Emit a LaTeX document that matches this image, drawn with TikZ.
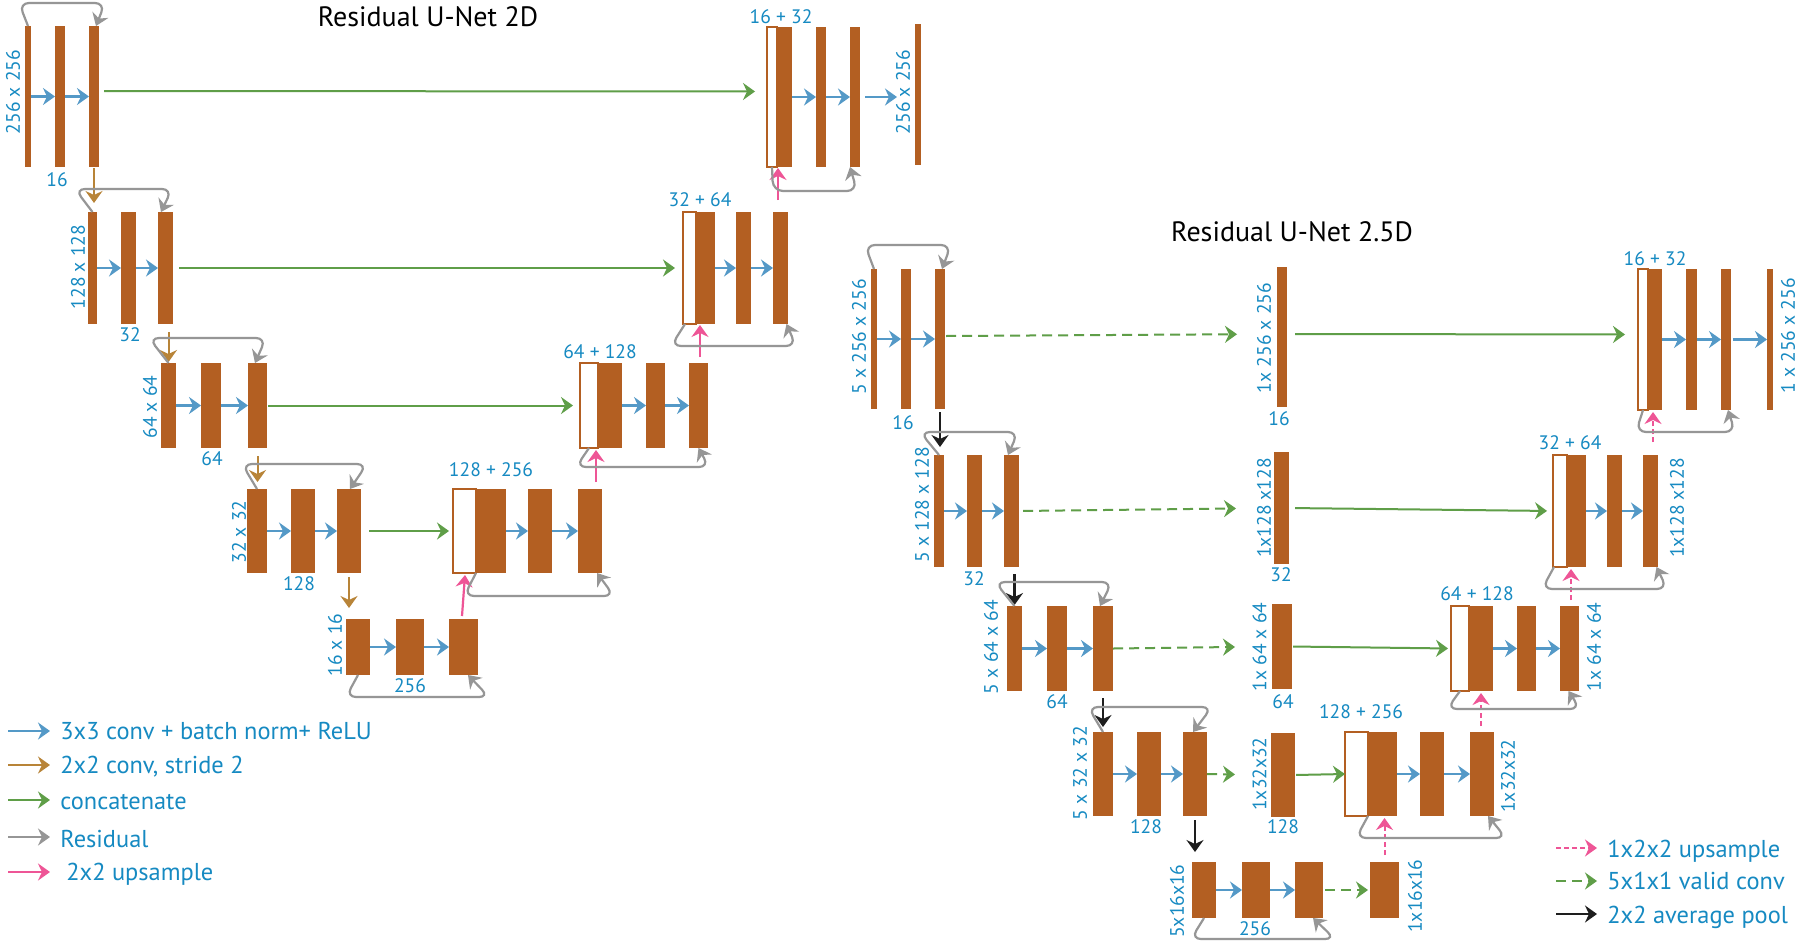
\documentclass[tikz,border=0pt]{standalone}
\usepackage{fontspec}
\setmainfont{PT Sans}
\usetikzlibrary{arrows.meta,calc}
\definecolor{barc}{RGB}{179,95,34}
\definecolor{txtc}{RGB}{22,138,194}
\definecolor{convc}{RGB}{84,153,199}
\definecolor{catc}{RGB}{95,158,72}
\definecolor{resc}{RGB}{150,150,150}
\definecolor{upc}{RGB}{238,85,150}
\definecolor{downc}{RGB}{184,132,56}
\definecolor{poolc}{RGB}{30,30,30}
\tikzset{
  barbox/.style={fill=barc,draw=none,inner sep=0pt,outer sep=0pt},
  hollowbox/.style={fill=white,draw=barc,line width=0.8pt,inner sep=0pt,outer sep=0pt},
  arr/.style={-{Stealth[length=6pt,width=8.5pt,inset=2pt]}},
  conv/.style={arr,draw=convc,line width=1.2pt},
  concat/.style={arr,draw=catc,line width=1pt},
  valid/.style={arr,draw=catc,line width=1pt,dash pattern=on 5pt off 3pt},
  res/.style={arr,draw=resc,line width=1.1pt,rounded corners=5pt},
  down/.style={arr,draw=downc,line width=1pt},
  pool/.style={arr,draw=poolc,line width=1.1pt},
  up/.style={arr,draw=upc,line width=1.1pt},
  upd/.style={arr,draw=upc,line width=1pt,dash pattern=on 2.5pt off 1.5pt},
  dim/.style={text=txtc,font=\fontsize{9.75pt}{11pt}\selectfont,inner sep=0pt},
  leg/.style={text=txtc,font=\fontsize{12.2pt}{14pt}\selectfont,inner sep=0pt,anchor=base west},
  ttl/.style={text=black,font=\fontsize{14pt}{16pt}\selectfont,inner sep=0pt},
}
\newcommand\filledbar[5]{\node[barbox,minimum width={((#4)-(#2))*0.5pt},minimum height={((#5)-(#3))*0.5pt}] (#1) at ({((#2)+(#4))/2},{((#3)+(#5))/2}) {};}
\newcommand\hollowbar[5]{\node[hollowbox,minimum width={((#4)-(#2))*0.5pt},minimum height={((#5)-(#3))*0.5pt}] (#1) at ({((#2)+(#4))/2},{((#3)+(#5))/2}) {};}
\newcommand\residarrow[5]{\draw[res] #1 -- (#2,#4) -- (#3,#4) -- #5;}
\begin{document}
\begin{tikzpicture}[x=0.5pt,y=-0.5pt]
\useasboundingbox[fill=white] (0,0) rectangle (1802,943);
% ---------- titles
\node[ttl] (t2d) at (428,17) {Residual U-Net 2D};
\node[ttl] (t25) at (1292,232) {Residual U-Net 2.5D};
% ---------- 2D bars
\filledbar{A1}{25}{26}{31}{167}\filledbar{A2}{55}{26}{65}{167}\filledbar{A3}{89}{26}{99}{167}
\filledbar{B1}{88}{212}{97}{324}\filledbar{B2}{121}{212}{136}{324}\filledbar{B3}{158}{212}{173}{324}
\filledbar{C1}{161}{363}{176}{448}\filledbar{C2}{201}{363}{221}{448}\filledbar{C3}{248}{363}{267}{448}
\filledbar{D1}{247}{489}{267}{573}\filledbar{D2}{291}{489}{315}{573}\filledbar{D3}{337}{489}{361}{573}
\filledbar{E1}{346}{619}{370}{675}\filledbar{E2}{396}{619}{424}{675}\filledbar{E3}{449}{619}{478}{675}
\hollowbar{DH}{453}{489}{476}{573}\filledbar{DF}{476}{489}{506}{573}\filledbar{DR2}{528}{489}{552}{573}\filledbar{DR3}{578}{489}{602}{573}
\hollowbar{CH}{580}{363}{598}{448}\filledbar{CF}{598}{363}{622}{448}\filledbar{CR2}{646}{363}{665}{448}\filledbar{CR3}{689}{363}{708}{448}
\hollowbar{BH}{683}{212}{696}{324}\filledbar{BF}{696}{212}{715}{324}\filledbar{BR2}{736}{212}{751}{324}\filledbar{BR3}{773}{212}{788}{324}
\hollowbar{AH}{767}{27}{777}{167}\filledbar{AF}{777}{27}{792}{167}\filledbar{AR2}{816}{27}{826}{167}\filledbar{AR3}{850}{27}{860}{167}
\filledbar{AO}{915}{24}{921}{165}
% ---------- 2.5D bars
\filledbar{P1}{871}{269}{877}{409}\filledbar{P2}{901}{269}{911}{409}\filledbar{P3}{935}{269}{945}{409}
\filledbar{Q1}{934}{455}{944}{567}\filledbar{Q2}{967}{455}{982}{567}\filledbar{Q3}{1004}{455}{1019}{567}
\filledbar{R1}{1007}{606}{1022}{691}\filledbar{R2}{1047}{606}{1067}{691}\filledbar{R3}{1093}{606}{1113}{691}
\filledbar{S1}{1093}{732}{1113}{816}\filledbar{S2}{1137}{732}{1161}{816}\filledbar{S3}{1183}{732}{1207}{816}
\filledbar{T1}{1192}{862}{1216}{918}\filledbar{T2}{1242}{862}{1270}{918}\filledbar{T3}{1295}{862}{1323}{918}
\filledbar{PM}{1277}{267}{1287}{407}\filledbar{QM}{1274}{452}{1289}{564}\filledbar{RM}{1272}{604}{1292}{689}
\filledbar{SM}{1271}{733}{1295}{817}\filledbar{TM}{1370}{862}{1399}{918}
\hollowbar{SH}{1345}{732}{1368}{816}\filledbar{SF}{1368}{732}{1397}{816}\filledbar{SR2}{1420}{732}{1444}{816}\filledbar{SR3}{1470}{732}{1494}{816}
\hollowbar{RH}{1451}{606}{1469}{691}\filledbar{RF}{1469}{606}{1493}{691}\filledbar{RR2}{1517}{606}{1536}{691}\filledbar{RR3}{1560}{606}{1579}{691}
\hollowbar{QH}{1553}{455}{1567}{567}\filledbar{QF}{1567}{455}{1586}{567}\filledbar{QR2}{1607}{455}{1622}{567}\filledbar{QR3}{1643}{455}{1658}{567}
\hollowbar{PH}{1638}{269}{1648}{410}\filledbar{PF}{1648}{269}{1662}{410}\filledbar{PR2}{1686}{269}{1697}{410}\filledbar{PR3}{1721}{269}{1731}{410}
\filledbar{PO}{1767}{269}{1773}{410}
% ---------- 2D labels
\node[dim,rotate=90] (lA) at (13,92) {256 x 256};
\node[dim] (cA) at (57,180) {16};
\node[dim,rotate=90] (lB) at (78,267) {128 x 128};
\node[dim] (cB) at (130,335) {32};
\node[dim,rotate=90] (lC) at (150,407) {64 x 64};
\node[dim] (cC) at (212,459) {64};
\node[dim,rotate=90] (lD) at (239,532) {32 x 32};
\node[dim] (cD) at (299,584) {128};
\node[dim,rotate=90] (lE) at (335,645) {16 x 16};
\node[dim] (cE) at (410,686) {256};
\node[dim] (sA) at (781,17) {16 + 32};
\node[dim,rotate=90] (lAO) at (903,92) {256 x 256};
\node[dim] (sB) at (700,200) {32 + 64};
\node[dim] (sC) at (600,352) {64 + 128};
\node[dim] (sD) at (491,470) {128 + 256};
% ---------- 2.5D labels
\node[dim,rotate=90] (lP) at (859,337) {5 x 256 x 256};
\node[dim] (cP) at (903,423) {16};
\node[dim,rotate=90] (lPM) at (1264,338) {1x 256 x 256};
\node[dim] (cPM) at (1279,419) {16};
\node[dim,rotate=90] (lQ) at (922,505) {5 x 128 x 128};
\node[dim] (cQ) at (974,579) {32};
\node[dim,rotate=90] (lQM) at (1264,508) {1x128 x128};
\node[dim] (cQM) at (1281,575) {32};
\node[dim,rotate=90] (lR) at (991,647) {5 x 64 x 64};
\node[dim] (cR) at (1057,702) {64};
\node[dim,rotate=90] (lRM) at (1259.5,647) {1x 64 x 64};
\node[dim] (cRM) at (1283,702) {64};
\node[dim,rotate=90] (lS) at (1080,773) {5 x 32 x 32};
\node[dim] (cS) at (1146,827) {128};
\node[dim,rotate=90] (lSM) at (1259.5,774) {1x32x32};
\node[dim] (cSM) at (1283,827) {128};
\node[dim,rotate=90] (lT) at (1177,901) {5x16x16};
\node[dim] (cT) at (1255,929) {256};
\node[dim,rotate=90] (lTM) at (1415,896) {1x16x16};
\node[dim,rotate=90] (lSR) at (1508,776) {1x32x32};
\node[dim,rotate=90] (lRR) at (1594,647) {1x 64 x 64};
\node[dim,rotate=90] (lQR) at (1677,508) {1x128 x128};
\node[dim,rotate=90] (lPO) at (1788,336) {1 x 256 x 256};
\node[dim] (sS) at (1361,712) {128 + 256};
\node[dim] (sR) at (1477,594) {64 + 128};
\node[dim] (sQ) at (1570,443) {32 + 64};
\node[dim] (sP) at (1655,259) {16 + 32};
% ---------- conv arrows
\foreach \a/\b in {A1/A2,A2/A3,B1/B2,B2/B3,C1/C2,C2/C3,D1/D2,D2/D3,E1/E2,E2/E3,
  DF/DR2,DR2/DR3,CF/CR2,CR2/CR3,BF/BR2,BR2/BR3,AF/AR2,AR2/AR3,
  P1/P2,P2/P3,Q1/Q2,Q2/Q3,R1/R2,R2/R3,S1/S2,S2/S3,T1/T2,T2/T3,
  SF/SR2,SR2/SR3,RF/RR2,RR2/RR3,QF/QR2,QR2/QR3,PF/PR2,PR2/PR3}
  {\draw[conv] (\a.east) -- (\b.west);}
\draw[conv,shorten >=9pt,shorten <=2.5pt] (AR3.east) -- (AR3.east -| AO.west);
\draw[conv,shorten <=1pt] (PR3.east) -- (PR3.east -| PO.west);
% ---------- concatenate 2D
\draw[concat,shorten <=2.5pt,shorten >=6pt] ([yshift=2.75pt]A3.east) -- ([yshift=2.75pt]AH.west);
\draw[concat,shorten <=3pt,shorten >=4pt] (B3.east) -- (BH.west);
\draw[concat,shorten <=0.5pt,shorten >=3.5pt] (C3.east) -- (CH.west);
\draw[concat,shorten <=4pt,shorten >=2pt] (D3.east) -- (DH.west);
% ---------- concatenate 2.5D
\draw[concat,shorten <=4pt,shorten >=6.5pt] ([yshift=1.5pt]PM.east) -- ([yshift=2.5pt]PH.west);
\draw[concat,shorten <=3pt,shorten >=3pt] (QM.east) -- (QH.west);
\draw[concat,shorten <=0.5pt,shorten >=1.5pt] (RM.east) -- (RH.west);
\draw[concat,shorten <=0.5pt,shorten >=0pt] (SM.east) -- (SH.west);
% ---------- valid conv 2.5D
\draw[valid,shorten <=0.5pt,shorten >=20pt] ([yshift=1.5pt]P3.east) -- ([yshift=1.5pt]PM.west);
\draw[valid,shorten <=2pt,shorten >=19pt] (Q3.east) -- (QM.west);
\draw[valid,shorten <=0pt,shorten >=18.5pt] (R3.east) -- (RM.west);
\draw[valid,shorten <=0pt,shorten >=18pt] (S3.east) -- (SM.west);
\draw[valid,shorten <=1pt,shorten >=1pt] (T3.east) -- (TM.west);
% ---------- down conv 2D
\draw[down,shorten <=0.5pt,shorten >=4.5pt] (A3.south) -- (A3.south |- B1.north);
\draw[down,shorten <=4pt,shorten >=0.5pt] (C1.north |- B3.south) -- (C1.north);
\draw[down,shorten <=4pt,shorten >=3.5pt] (C3.south) -- (C3.south |- D1.north);
\draw[down,shorten <=2pt,shorten >=5.5pt] (D3.south) -- (D3.south |- E1.north);
% ---------- pooling 2.5D
\draw[pool,shorten <=1.5pt,shorten >=4pt] (P3.south) -- (P3.south |- Q1.north);
\draw[pool,shorten <=3.5pt,shorten >=0.5pt] (R1.north |- Q3.south) -- (R1.north);
\draw[pool,shorten <=3.5pt,shorten >=2.5pt] (R3.south) -- (R3.south |- S1.north);
\draw[pool,shorten <=2pt,shorten >=5pt] (S3.south) -- (S3.south |- T1.north);
% ---------- upsample 2D
\draw[up] ($(BR3.north)+(-2.5,-12)$) -- ++(0,-32);
\draw[up] ($(CR3.north)+(1.5,-6)$) -- ++(0,-32);
\draw[up] ($(DR3.north)+(6,-7)$) -- ++(0,-32);
\draw[up] ($(E3.north)+(-1.5,-3)$) -- ++(3,-41);
% ---------- upsample 2.5D
\draw[upd] ($(QR3.north)+(2.5,-13)$) -- ++(0,-30);
\draw[upd] ($(RR3.north)+(1.5,-6)$) -- ++(0,-31);
\draw[upd] ($(SR3.north)+(-1,-6)$) -- ++(0,-33);
\draw[upd] ($(TM.north)+(0,-7)$) -- ++(0,-37);
% ---------- residuals 2D
\residarrow{(A1.north)}{19}{105}{3}{($(A3.north)+(2,0)$)}
\residarrow{(B1.north)}{75}{172}{189}{($(B3.north)+(-4.5,0)$)}
\residarrow{(C1.north)}{149}{266}{338}{($(C3.north)+(-2.5,0)$)}
\residarrow{(D1.north)}{242}{367}{464}{($(D3.north)+(1,0)$)}
\residarrow{(E1.south)}{346}{489}{697}{($(E3.south)+(4.5,0)$)}
\residarrow{(DH.south east)}{464}{614}{596}{($(DR3.south)+(7,0)$)}
\residarrow{(CH.south)}{576}{709}{467}{(CR3.south)}
\residarrow{($(BH.south west)+(2,0)$)}{671}{796}{346}{($(BR3.south)+(6,0)$)}
\residarrow{(AH.south)}{773}{857}{191}{($(AR3.south)+(-5,0)$)}
% ---------- residuals 2.5D
\residarrow{(P1.north)}{865}{951}{245}{($(P3.north)+(2,0)$)}
\residarrow{(Q1.north)}{920}{1018}{432}{($(Q3.north)+(-3.5,0)$)}
\residarrow{(R1.north)}{995}{1112}{582}{($(R3.north)+(-3,0)$)}
\residarrow{(S1.north)}{1088}{1212}{707}{($(S3.north)+(-2,0)$)}
\residarrow{(T1.south)}{1191}{1335}{939}{($(T3.south)+(4,0)$)}
\residarrow{(PH.south)}{1636}{1735}{432}{($(PR3.south)+(2,0)$)}
\residarrow{($(QH.south west)+(1,0)$)}{1542}{1667}{589}{($(QR3.south)+(6,0)$)}
\residarrow{(RH.south)}{1447}{1580}{709}{($(RR3.south)+(-1,0)$)}
\residarrow{(SH.south east)}{1356}{1506}{838}{($(SR3.south)+(6,0)$)}
% ---------- legend 2D
\coordinate (k1a) at (8,731);\coordinate (k1b) at (50,731);
\coordinate (k2a) at (8,765);\coordinate (k2b) at (50,765);
\coordinate (k3a) at (8,800);\coordinate (k3b) at (50,800);
\coordinate (k4a) at (8,837);\coordinate (k4b) at (50,837);
\coordinate (k5a) at (8,872);\coordinate (k5b) at (50,872);
\draw[conv] (k1a) -- (k1b);
\draw[down,line width=1.2pt] (k2a) -- (k2b);
\draw[concat,line width=1.2pt] (k3a) -- (k3b);
\draw[res] (k4a) -- (k4b);
\draw[up] (k5a) -- (k5b);
\node[leg] (g1) at (60,739) {3x3 conv + batch norm+ ReLU};
\node[leg] (g2) at (60,773) {2x2 conv, stride 2};
\node[leg] (g3) at (60,809) {concatenate};
\node[leg] (g4) at (60,847) {Residual};
\node[leg] (g5) at (66,880) {2x2 upsample};
% ---------- legend 2.5D
\coordinate (m1a) at (1556,848);\coordinate (m1b) at (1597,848);
\coordinate (m2a) at (1556,881);\coordinate (m2b) at (1597,881);
\coordinate (m3a) at (1556,914);\coordinate (m3b) at (1597,914);
\draw[upd] (m1a) -- (m1b);
\draw[valid] (m2a) -- (m2b);
\draw[pool] (m3a) -- (m3b);
\node[leg] (h1) at (1607,857) {1x2x2 upsample};
\node[leg] (h2) at (1607,889) {5x1x1 valid conv};
\node[leg] (h3) at (1607,923) {2x2 average pool};
\end{tikzpicture}
\end{document}
